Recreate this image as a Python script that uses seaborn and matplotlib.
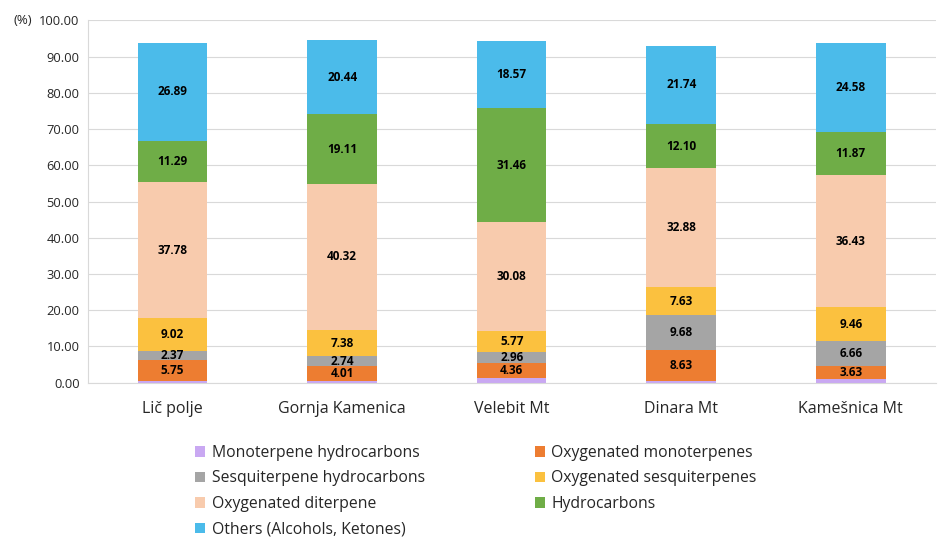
import matplotlib
matplotlib.use("Agg")
import matplotlib.pyplot as plt
import seaborn as sns
import numpy as np
import pandas as pd
from matplotlib.patches import Patch

sites = ['Lič polje', 'Gornja Kamenica', 'Velebit Mt', 'Dinara Mt', 'Kamešnica Mt']

mono_hc = [0.6, 0.5, 1.2, 0.4, 1.1]
oxy_mono = [5.75, 4.01, 4.36, 8.63, 3.63]
sesqui_hc = [2.37, 2.74, 2.96, 9.68, 6.66]
oxy_sesqui = [9.02, 7.38, 5.77, 7.63, 9.46]
oxy_diter = [37.78, 40.32, 30.08, 32.88, 36.43]
hydrocarbons = [11.29, 19.11, 31.46, 12.10, 11.87]
others = [26.89, 20.44, 18.57, 21.74, 24.58]

series_names = ['Monoterpene hydrocarbons', 'Oxygenated monoterpenes',
                'Sesquiterpene hydrocarbons', 'Oxygenated sesquiterpenes',
                'Oxygenated diterpene', 'Hydrocarbons', 'Others (Alcohols, Ketones)']
series = [mono_hc, oxy_mono, sesqui_hc, oxy_sesqui, oxy_diter, hydrocarbons, others]
colors = ['#C9A8F2', '#ED7D31', '#A5A5A5', '#FBC13F', '#F8CBAD', '#6FAD47', '#4BBBEA']
labelled = [False, True, True, True, True, True, True]

sns.set_style('white')
plt.rcParams['font.family'] = ['Open Sans', 'DejaVu Sans']

fig = plt.figure(figsize=(9.45, 5.39), dpi=100)
ax = fig.add_axes([0.093, 0.29, 0.897, 0.672])

data = pd.DataFrame(np.array(series).T, columns=series_names)
data['site'] = sites
cum = data[series_names].cumsum(axis=1)

# draw cumulative totals from the top down so the bars stack
for i in range(len(series_names) - 1, -1, -1):
    df = pd.DataFrame({'site': sites, 'value': cum[series_names[i]].values})
    sns.barplot(data=df, x='site', y='value', color=colors[i], width=0.41,
                saturation=1, ax=ax, zorder=2, linewidth=0)

for i, name in enumerate(series_names):
    if not labelled[i]:
        continue
    for j in range(len(sites)):
        v = data[name].iloc[j]
        mid = cum[name].iloc[j] - v / 2
        ax.text(j, mid, f'{v:.2f}', ha='center', va='center', fontsize=8.5,
                fontweight='bold', color='black', zorder=3)

ax.set_ylim(0, 100)
ax.set_yticks(np.arange(0, 101, 10))
ax.set_yticklabels([f'{t:.2f}' for t in np.arange(0, 101, 10)], fontsize=9.3)
ax.set_xlim(-0.5, 4.5)
ax.tick_params(axis='x', labelsize=11.5, length=0, pad=13)
ax.tick_params(axis='y', length=0, pad=6)
ax.set_xlabel('')
ax.set_ylabel('')
ax.yaxis.grid(True, color='#D9D9D9', linewidth=0.8, zorder=0)
ax.set_axisbelow(True)
for s in ['top', 'right']:
    ax.spines[s].set_visible(False)
ax.spines['left'].set_color('#D9D9D9')
ax.spines['bottom'].set_color('#D9D9D9')
ax.text(-0.088, 1.0, '(%)', transform=ax.transAxes, ha='left', va='center', fontsize=9.5)

handles = [Patch(facecolor=c, edgecolor='none') for c in colors]
order = [0, 2, 4, 6, 1, 3, 5]
fig.legend([handles[k] for k in order], [series_names[k] for k in order],
           loc='upper left', bbox_to_anchor=(0.2, 0.186), ncol=2, frameon=False,
           fontsize=11.3, handlelength=0.65, handleheight=0.65, handletextpad=0.4,
           columnspacing=7.0, labelspacing=0.6, borderaxespad=0)

fig.savefig('out.png', dpi=100)
